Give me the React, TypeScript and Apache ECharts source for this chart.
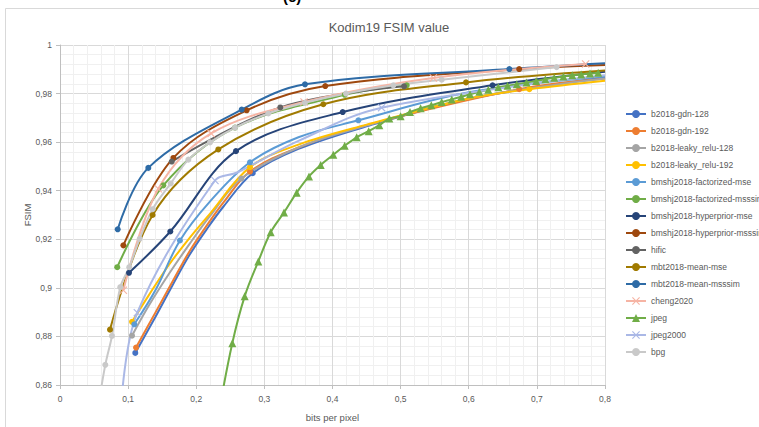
import { useEffect, useRef } from "react";
import * as echarts from "echarts";

// Each point: [bpp, FSIM]; a third element 0 marks a point on the curve drawn without a marker.
const seriesNames = [
  "b2018-gdn-128",
  "b2018-gdn-192",
  "b2018-leaky_relu-128",
  "b2018-leaky_relu-192",
  "bmshj2018-factorized-mse",
  "bmshj2018-factorized-msssim",
  "bmshj2018-hyperprior-mse",
  "bmshj2018-hyperprior-msssim",
  "hific",
  "mbt2018-mean-mse",
  "mbt2018-mean-msssim",
  "cheng2020",
  "jpeg",
  "jpeg2000",
  "bpg",
];

const gdn128 = [[0.1105, 0.8732], [0.14, 0.888, 0], [0.165, 0.901, 0], [0.19, 0.9135, 0], [0.215, 0.924, 0], [0.24, 0.9335, 0], [0.2828, 0.9472], [0.35, 0.9572, 0], [0.45, 0.9665, 0], [0.6, 0.9778, 0], [0.8, 0.9866, 0]];
const gdn192 = [[0.1116, 0.8754], [0.14, 0.8898, 0], [0.165, 0.9025, 0], [0.19, 0.915, 0], [0.215, 0.9255, 0], [0.24, 0.9352, 0], [0.2789, 0.9479], [0.35, 0.9578, 0], [0.45, 0.967, 0], [0.674, 0.9818], [0.8, 0.9862, 0]];
const leaky128 = [[0.1057, 0.8803], [0.13, 0.8925, 0], [0.16, 0.9058, 0], [0.19, 0.918, 0], [0.22, 0.9295, 0], [0.2661, 0.945], [0.35, 0.9578, 0], [0.45, 0.9668, 0], [0.6, 0.978, 0], [0.8, 0.9862, 0]];
const leaky192 = [[0.1057, 0.886], [0.13, 0.8968, 0], [0.16, 0.9095, 0], [0.19, 0.9205, 0], [0.22, 0.9305, 0], [0.2789, 0.9497], [0.35, 0.959, 0], [0.45, 0.9672, 0], [0.6, 0.978, 0], [0.689, 0.9818], [0.8, 0.9853, 0]];
const factMse = [[0.109, 0.885], [0.14, 0.899, 0], [0.1761, 0.9195], [0.22, 0.9355, 0], [0.2789, 0.9517], [0.35, 0.962, 0], [0.438, 0.969], [0.6, 0.9805, 0], [0.8, 0.987, 0]];
const factMsssim = [[0.084, 0.9085], [0.1517, 0.9422], [0.2569, 0.966], [0.418, 0.9795], [0.509, 0.9834]];
const hyperMse = [[0.1013, 0.9062], [0.1619, 0.9232], [0.2583, 0.9563], [0.415, 0.9724], [0.635, 0.9834], [0.8, 0.989, 0]];
const hyperMsssim = [[0.093, 0.9175], [0.1664, 0.9535], [0.274, 0.9731], [0.3894, 0.9831], [0.674, 0.9901], [0.8, 0.9918, 0]];
const hific = [[0.164, 0.952], [0.3234, 0.9743], [0.505, 0.983]];
const mbtMse = [[0.0734, 0.8828], [0.136, 0.93], [0.2324, 0.957], [0.3865, 0.9756], [0.596, 0.9846], [0.8, 0.9895, 0]];
const mbtMsssim = [[0.0847, 0.9241], [0.1296, 0.9494], [0.2667, 0.9734], [0.3596, 0.9838], [0.6596, 0.9901], [0.8, 0.9925, 0]];
const cheng2020 = [[0.093, 0.899], [0.1443, 0.9408], [0.2218, 0.9636], [0.3582, 0.9765], [0.548, 0.9864], [0.7716, 0.9922]];
const jpeg = [
  [0.234, 0.85, 0], [0.2529, 0.8772], [0.2711, 0.8965], [0.2911, 0.9109], [0.3093, 0.9229], [0.3288, 0.931],
  [0.3474, 0.9392], [0.3655, 0.9459], [0.3827, 0.9506], [0.4012, 0.9548], [0.4179, 0.9585], [0.4355, 0.962],
  [0.4531, 0.9645], [0.4687, 0.967], [0.4834, 0.9697], [0.5, 0.9707], [0.5138, 0.9724], [0.5294, 0.974],
  [0.545, 0.9752], [0.5603, 0.9765], [0.575, 0.9776], [0.589, 0.9787], [0.6018, 0.9797], [0.6155, 0.9807],
  [0.6287, 0.9816], [0.6434, 0.9826], [0.657, 0.9832], [0.6705, 0.9838], [0.6848, 0.9846], [0.699, 0.9852],
  [0.7125, 0.9859], [0.7255, 0.9865], [0.739, 0.987], [0.752, 0.9875], [0.765, 0.9879], [0.778, 0.9883], [0.79, 0.9886],
];
const jpeg2000 = [[0.09, 0.852, 0], [0.1135, 0.8898], [0.2275, 0.9442], [0.26, 0.9475, 0], [0.35, 0.9605, 0], [0.472, 0.9742], [0.8, 0.9875, 0]];
const bpg = [
  [0.056, 0.851, 0], [0.0665, 0.8683], [0.0763, 0.8802], [0.0885, 0.9003], [0.1017, 0.9085], [0.117, 0.9202],
  [0.136, 0.9324], [0.1625, 0.943], [0.1884, 0.9528], [0.2202, 0.9599], [0.2569, 0.966], [0.3058, 0.9718],
  [0.3596, 0.9762], [0.4198, 0.98], [0.4893, 0.9834], [0.5603, 0.9857], [0.729, 0.9909],
];

const seriesData = [gdn128, gdn192, leaky128, leaky192, factMse, factMsssim, hyperMse, hyperMsssim, hific, mbtMse, mbtMsssim, cheng2020, jpeg, jpeg2000, bpg];

const colors = ["#4472C4", "#ED7D31", "#A5A5A5", "#FFC000", "#5B9BD5", "#70AD47", "#264478", "#9E480E", "#636363", "#A07A00", "#2E6BA6", "#F6B4A4", "#70AD47", "#AAB8E6", "#C9C9C9"];

const X_PATH = "path://M1,0L5,4L9,0L10,1L6,5L10,9L9,10L5,6L1,10L0,9L4,5L0,1Z";
const FONT = "Liberation Sans";
const GRAY = "#595959";

function fmt(v: number) {
  return String(+v.toFixed(2)).replace(".", ",");
}

export default function App() {
  const ref = useRef<HTMLDivElement>(null);
  useEffect(() => {
    document.body.style.margin = "0";
    const chart = echarts.init(ref.current!, null, { renderer: "svg" });
    const series = seriesData.map((pts, i) => {
      const name = seriesNames[i];
      let symbol: string = "circle";
      let symbolSize = 6;
      if (name === "jpeg") { symbol = "triangle"; symbolSize = 8; }
      if (name === "jpeg2000" || name === "cheng2020") { symbol = X_PATH; symbolSize = 8; }
      return {
        name,
        type: "line",
        smooth: 0.35,
        clip: true,
        symbol,
        symbolSize,
        showAllSymbol: true,
        lineStyle: { color: colors[i], width: 2 },
        itemStyle: { color: colors[i] },
        emphasis: { disabled: true },
        data: pts.map((p) => (p.length > 2 ? { value: [p[0], p[1]], symbol: "none" } : { value: [p[0], p[1]] })),
      };
    });
    chart.setOption({
      animation: false,
      backgroundColor: "#ffffff",
      textStyle: { fontFamily: FONT },
      grid: { left: 60, right: 154, top: 45, bottom: 39, containLabel: false },
      xAxis: {
        type: "value",
        min: 0,
        max: 0.8,
        interval: 0.1,
        name: "bits per pixel",
        nameLocation: "middle",
        nameGap: 27,
        nameMoveOverlap: false,
        nameTextStyle: { color: GRAY, fontSize: 9.5, fontFamily: FONT },
        axisLine: { show: true, lineStyle: { color: "#BFBFBF" } },
        axisTick: { show: true, length: 4, lineStyle: { color: "#BFBFBF" } },
        axisLabel: { color: GRAY, fontSize: 8.5, fontFamily: FONT, margin: 9, formatter: fmt },
        splitLine: { show: true, lineStyle: { color: "#D9D9D9", width: 1 } },
        minorTick: { show: false, splitNumber: 5 },
        minorSplitLine: { show: true, lineStyle: { color: "#F0F0F0", width: 1 } },
      },
      yAxis: {
        type: "value",
        min: 0.86,
        max: 1,
        interval: 0.02,
        name: "FSIM",
        nameLocation: "middle",
        nameRotate: 90,
        nameGap: 28,
        nameMoveOverlap: false,
        nameTextStyle: { color: GRAY, fontSize: 9.5, fontFamily: FONT },
        axisLine: { show: true, lineStyle: { color: "#BFBFBF" } },
        axisTick: { show: true, length: 4, lineStyle: { color: "#BFBFBF" } },
        axisLabel: { color: GRAY, fontSize: 8.5, fontFamily: FONT, margin: 8, formatter: fmt },
        splitLine: { show: true, lineStyle: { color: "#D9D9D9", width: 1 } },
        minorTick: { show: false, splitNumber: 5 },
        minorSplitLine: { show: true, lineStyle: { color: "#F0F0F0", width: 1 } },
      },
      legend: {
        orient: "vertical",
        left: 625,
        top: 109,
        padding: 0,
        itemWidth: 20,
        itemHeight: 10,
        itemGap: 7,
        selectedMode: false,
        textStyle: { color: GRAY, fontSize: 8.5, fontFamily: FONT, lineHeight: 10 },
        data: seriesNames,
      },
      graphic: [
        {
          type: "rect",
          silent: true,
          shape: { x: 5.5, y: 8.5, width: 760, height: 425 },
          style: { fill: "none", stroke: "#D9D9D9", lineWidth: 1 },
        },
        {
          type: "text",
          silent: true,
          x: 283,
          y: 4,
          style: { text: "(c)", fill: "#000", font: `bold 15px ${FONT}`, textVerticalAlign: "bottom" },
        },
        {
          type: "text",
          silent: true,
          x: 389,
          y: 27,
          style: { text: "Kodim19 FSIM value", fill: GRAY, font: `13px ${FONT}`, textAlign: "center", textVerticalAlign: "middle" },
        },
      ],
      series,
    });
    return () => chart.dispose();
  }, []);
  return <div ref={ref} style={{ width: 759, height: 427 }} />;
}
